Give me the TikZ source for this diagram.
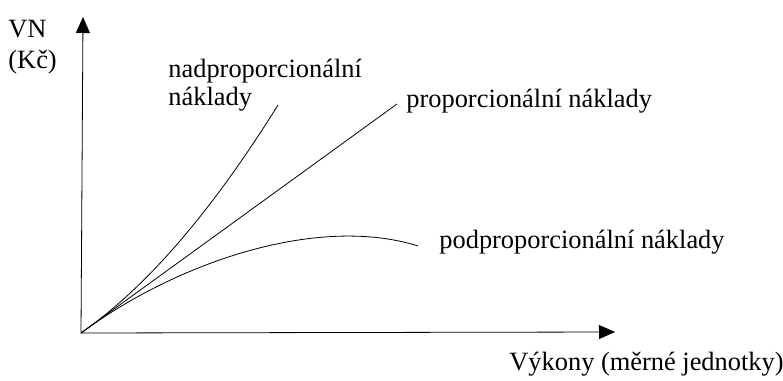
\documentclass[tikz,border=0pt]{standalone}
\usepackage{fontspec}
\setmainfont{Liberation Serif}
\usetikzlibrary{arrows.meta}
\tikzstyle{mygraphstyle}=[
    x=0.75pt, y=0.75pt,
    >={Triangle[length=12pt,width=10.5pt]},
    semithick,
    every node/.style={
        inner sep=0pt,
        anchor=base west,
        font=\fontsize{19.8}{24}\selectfont,
    },
]

\begin{document}
\begin{tikzpicture}[mygraphstyle]
        \useasboundingbox (0,0) rectangle (783,380);
        \coordinate (O) at (81,47);
        \coordinate (ytop) at (83,363);
        \coordinate (xend) at (615,48);
        \coordinate (prop) at (397,276);
        \coordinate (nad) at (278,275);
        \coordinate (pod) at (418,134);
        \draw[->] (O) -- (ytop);
        \draw[->] (O) -- (xend);
        \draw (O) -- (prop);
        \draw (O) .. controls (147,93) and (212,169) .. (nad);
        \draw (O) .. controls (180,120) and (320,165) .. (pod);
        \node (vn) at (8,343) {VN};
        \node (kc) at (8,312) {(Kč)};
        \node (nadA) at (168,303) {nadproporcionální};
        \node (nadB) at (168,275) {náklady};
        \node (propL) at (406,273) {proporcionální náklady};
        \node (podL) at (439,132) {podproporcionální náklady};
        \node (vykony) at (509,10) {Výkony (měrné jednotky)};
    \end{tikzpicture}
\end{document}
